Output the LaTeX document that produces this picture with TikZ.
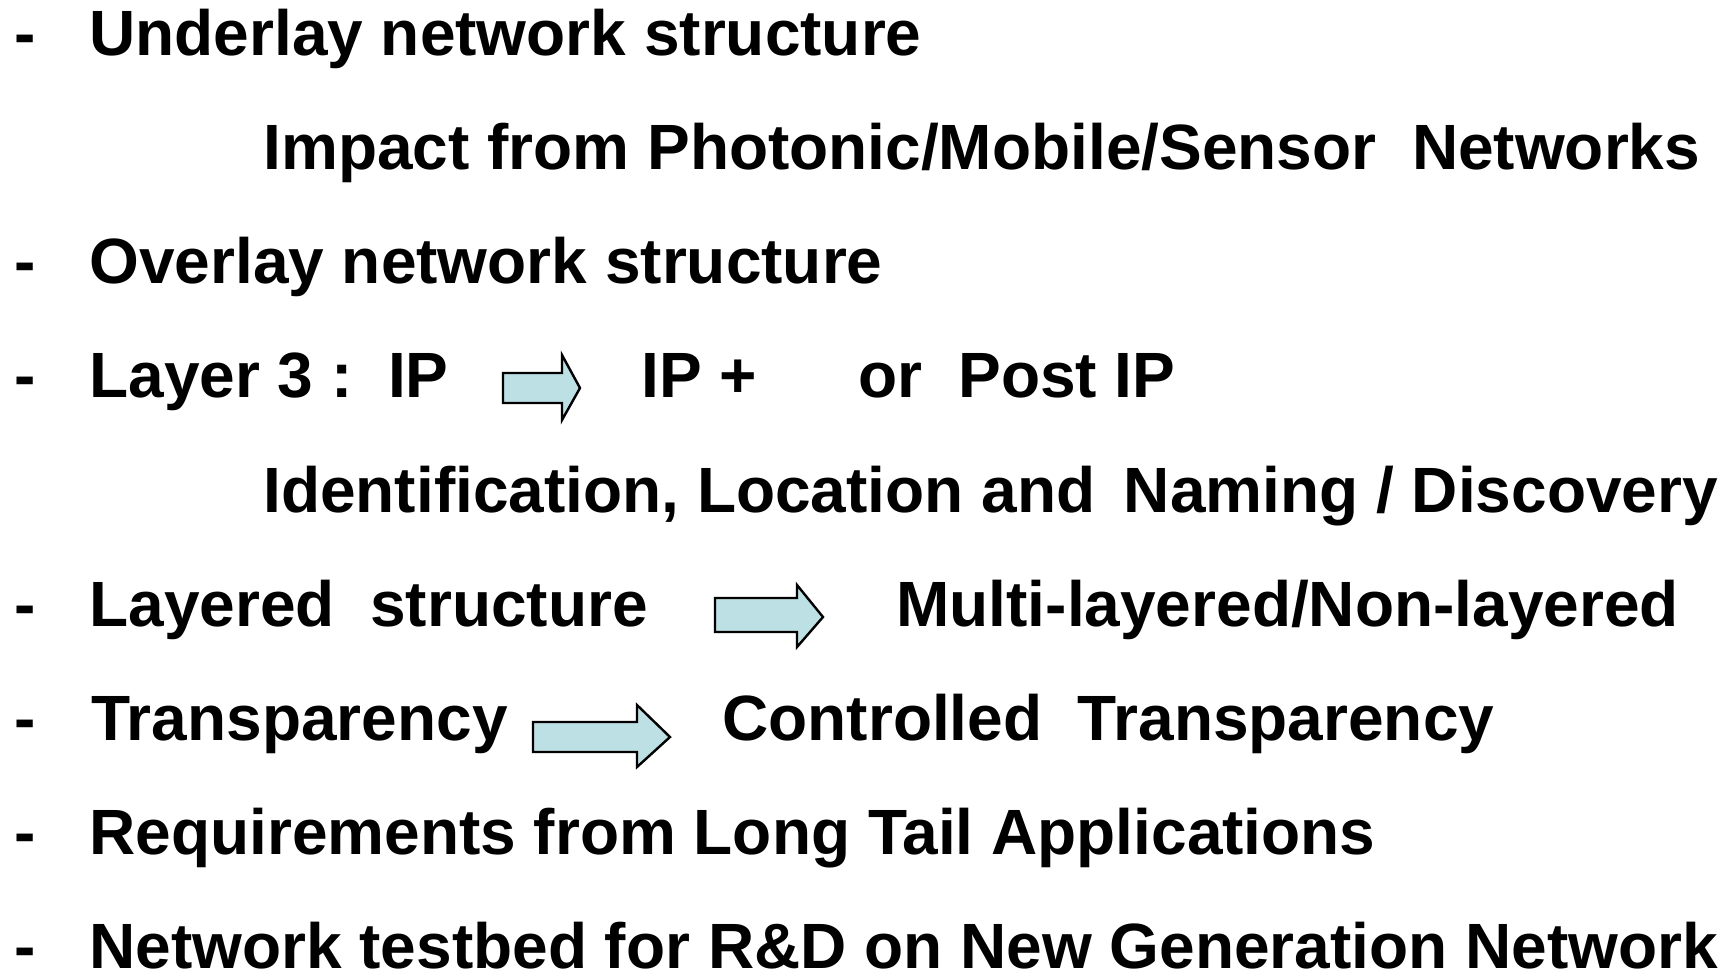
\documentclass[tikz,border=0pt]{standalone}
\usepackage{fontspec}
\setmainfont{Liberation Sans}
\usepackage{xcolor}
\usepackage{tikz}
\usetikzlibrary{positioning}
\definecolor{arrowfill}{RGB}{189,224,228}

\begin{document}
\begin{tikzpicture}[
  x=0.5pt, y=-0.5pt,
  txt/.style={
    anchor=base west,
    inner sep=0pt,
    font=\fontsize{32}{38}\selectfont\bfseries
  },
  hyph/.style={txt},
  blk/.style={
    draw=black,
    line width=1.2pt,
    fill=arrowfill,
    line join=miter
  }
]
\useasboundingbox (0,0) rectangle (1733,976);

% bullets
\foreach \i/\yy in {1/55, 3/283.5, 4/397.75, 6/626.25, 7/740.5, 8/854.75, 9/968} {
  \node[hyph] (dash\i) at (14,\yy) {-};
}

% lines
\node[txt] (under) at (89,55) {Underlay network structure};
\node[txt] (impact) at (263,169.25) {Impact from Photonic/Mobile/Sensor\ \ Networks};
\node[txt] (over) at (89,283.5) {Overlay network structure};
\node[txt] (layer) at (89,397.75) {Layer 3 :\ \ IP};
\node[txt] (ipplus) at (641,397.75) {IP +};
\node[txt] (or) at (858,397.75) {or};
\node[txt] (postip) at (958,397.75) {Post IP};
\node[txt] (ident) at (263,512) {Identification, Location and\ \,Naming / Discovery};
\node[txt] (layered) at (89,626.25) {Layered\ \ structure};
\node[txt] (multi) at (896,626.25) {Multi-layered/Non-layered};
\node[txt] (transp) at (91,740.5) {Transparency};
\node[txt] (ctrl) at (722,740.5) {Controlled\ \ Transparency};
\node[txt] (req) at (89,854.75) {Requirements from Long Tail Applications};
\node[txt] (testbed) at (89,968) {Network testbed for R\&D on New Generation Network};

% block arrows
\draw[blk] (503,373) -- (562,373) -- (562,355) -- (580,388) -- (562,420) -- (562,403) -- (503,403) -- cycle;
\draw[blk] (715,598) -- (797,598) -- (797,585) -- (823,617) -- (797,647) -- (797,632) -- (715,632) -- cycle;
\draw[blk] (533,722) -- (637,722) -- (637,705) -- (670,737) -- (637,767) -- (637,752) -- (533,752) -- cycle;

\end{tikzpicture}
\end{document}
